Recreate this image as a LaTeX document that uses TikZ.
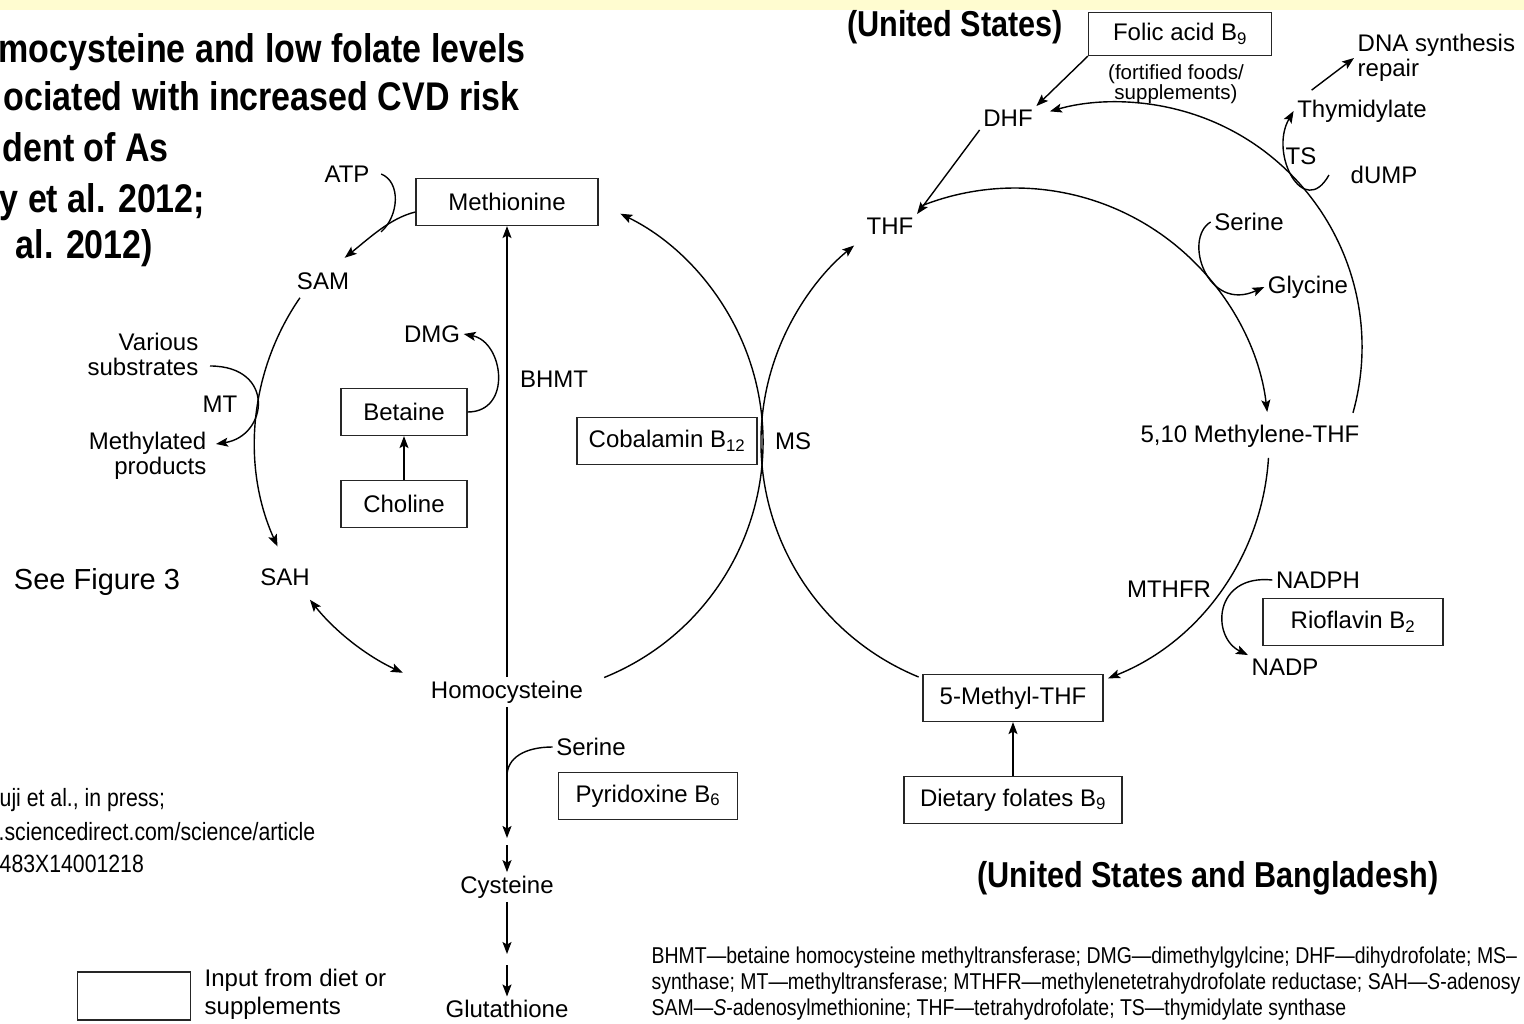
\documentclass[tikz,border=0pt]{standalone}
\usepackage{fontspec}
\setmainfont{Liberation Sans}
\newfontfamily\narrowfont[FakeStretch=0.85]{Liberation Sans}
\usetikzlibrary{arrows.meta}
\definecolor{bandyellow}{RGB}{255,252,208}

\begin{document}
\begin{tikzpicture}[x=1pt, y=-1pt, line width=1.4pt, >={Stealth[length=12pt,width=9pt,inset=2.5pt]}]
	\tikzstyle{box}=[rectangle, draw=black!85, line width=1.2pt, minimum height=47pt, font=\fontsize{24}{25}\selectfont]
	\tikzstyle{lbl}=[font=\fontsize{24}{25}\selectfont, inner sep=3pt]
	\tikzstyle{head}=[font=\narrowfont\bfseries\fontsize{40}{48}\selectfont, inner sep=0pt, anchor=base west]
	\tikzstyle{region}=[font=\narrowfont\bfseries\fontsize{36}{40}\selectfont]
	\tikzstyle{note}=[font=\narrowfont\fontsize{25}{30}\selectfont, inner sep=0pt, anchor=west]
	\tikzstyle{key}=[font=\narrowfont\fontsize{22.9}{26}\selectfont, inner sep=0pt, anchor=west]

	\useasboundingbox (0,0) rectangle (1524,1024);
	\fill[white] (0,0) rectangle (1524,1024);
	\fill[bandyellow] (0,0) rectangle (1524,10);

	% heading and notes
	\node[head] (hd1) at (-2,63) {mocysteine and low folate levels};
	\node[head] (hd2) at (3,111) {ociated with increased CVD risk};
	\node[head] (hd3) at (2,162) {dent of As};
	\node[head] (hd4) at (-1,213) {y et al. 2012;};
	\node[head] (hd5) at (15,259) {al. 2012)};
	\node[region] (us) at (955,27) {(United States)};
	\node[region] (usbd) at (1208,878) {(United States and Bangladesh)};
	\node[note] (cite1) at (-1,800) {uji et al., in press;};
	\node[note] (cite2) at (-2,832) {.sciencedirect.com/science/article};
	\node[note] (cite3) at (-1,864) {483X14001218};
	\node[key] (key1) at (651,958) {BHMT—betaine homocysteine methyltransferase; DMG—dimethylgylcine; DHF—dihydrofolate; MS–};
	\node[key] (key2) at (651,984) {synthase; MT—methyltransferase; MTHFR—methylenetetrahydrofolate reductase; SAH—\textit{S}-adenosy};
	\node[key] (key3) at (651,1010) {SAM—\textit{S}-adenosylmethionine; THF—tetrahydrofolate; TS—thymidylate synthase};
	\node[lbl, font=\fontsize{29}{30}\selectfont] (seefig) at (97,582) {See Figure 3};
	\node[box, minimum width=113pt, minimum height=48pt] (keybox) at (134,996) {};
	\node[lbl, align=left, anchor=west, font=\fontsize{24}{28}\selectfont] (keytext) at (201,994) {Input from diet or\\supplements};

	% methionine cycle
	\node[box, minimum width=182pt] (methionine) at (507,202) {Methionine};
	\node[lbl] (homocys) at (507,692) {Homocysteine};
	\node[lbl] (cysteine) [node distance=195pt, below of=homocys] {Cysteine};
	\node[lbl] (glutathione) [node distance=122pt, below of=cysteine] {Glutathione};
	\node[lbl] (atp) at (347,174) {ATP};
	\node[lbl] (sam) at (323,281) {SAM};
	\node[lbl] (sah) at (285,577) {SAH};
	\node[lbl, align=right, anchor=east] (substrates) at (202,354) {Various\\substrates};
	\node[lbl] (mt) at (220,404) {MT};
	\node[lbl, align=right, anchor=east] (methylated) at (210,456) {Methylated\\products};
	\node[lbl] (dmg) at (432,334) {DMG};
	\node[box, minimum width=126pt] (betaine) at (404,412) {Betaine};
	\node[box, minimum width=126pt] (choline) [node distance=92pt, below of=betaine] {Choline};
	\node[lbl] (bhmt) at (554,379) {BHMT};
	\node[box, minimum width=180pt] (cobalamin) at (667,441) {Cobalamin B\textsubscript{12}};
	\node[lbl] (ms) at (793,441) {MS};
	\node[lbl] (serine1) at (591,747) {Serine};
	\node[box, minimum width=179pt] (pyridoxine) at (648,796) {Pyridoxine B\textsubscript{6}};

	% folate cycle
	\node[lbl] (thf) at (890,226) {THF};
	\node[lbl] (dhf) at (1008,118) {DHF};
	\node[box, minimum width=183pt, minimum height=43pt] (folic) at (1180,34) {Folic acid B\textsubscript{9}};
	\node[lbl, align=center, font=\fontsize{20.5}{19}\selectfont] (fortified) at (1176,84) {(fortified foods/\\supplements)};
	\node[lbl] (thymidylate) at (1362,111) {Thymidylate};
	\node[lbl, align=left, anchor=west] (dna) at (1354,58) {DNA synthesis\\repair};
	\node[lbl] (ts) at (1301,156) {TS};
	\node[lbl] (dump) at (1384,175) {dUMP};
	\node[lbl] (serine2) at (1249,222) {Serine};
	\node[lbl] (glycine) at (1308,287) {Glycine};
	\node[lbl] (methylene) at (1250,436) {5,10 Methylene-THF};
	\node[lbl] (mthfr) at (1169,589) {MTHFR};
	\node[lbl] (nadph) at (1318,580) {NADPH};
	\node[box, minimum width=180pt] (rioflavin) at (1353,622) {Rioflavin B\textsubscript{2}};
	\node[lbl] (nadp) at (1285,667) {NADP};
	\node[box, minimum width=180pt] (methylthf) at (1013,698) {5-Methyl-THF};
	\node[box, minimum width=218pt] (dietary) [node distance=102pt, below of=methylthf] {Dietary folates B\textsubscript{9}};

	\coordinate (metc) at (509,442);
	\coordinate (folc) at (1015,442);
	\coordinate (thyc) at (1117,347);
	\coordinate (atpjoin) at (381,232);
	\coordinate (serjoin) at (507,776);
	\coordinate (hc1) at (507,838);
	\coordinate (hc2) at (507,845);
	\coordinate (cg1) at (507,954);
	\coordinate (cg2) at (507,965);

	% cycle arcs
	\draw[->] (metc) ++(68:254) arc[start angle=68, end angle=-64, radius=254];
	\draw[->] (metc) ++(214.6:254) arc[start angle=214.6, end angle=155.7, radius=254];
	\draw[<->] (metc) ++(141.6:254) arc[start angle=141.6, end angle=114.7, radius=254];
	\draw[->] (folc) ++(-111.4:254) arc[start angle=-111.4, end angle=-6.8, radius=254];
	\draw[->] (folc) ++(3.6:254) arc[start angle=3.6, end angle=68.5, radius=254];
	\draw[->] (folc) ++(112.3:254) arc[start angle=112.3, end angle=230.7, radius=254];
	\draw[->] (thyc) ++(15.6:245) arc[start angle=15.6, end angle=-105.9, radius=245];

	% side reactions
	\draw[->] ([yshift=-10pt]methionine.west) .. controls +(-25,6) and +(25,-20) .. ([xshift=-8pt,yshift=11pt]sam.north east);
	\draw (atp.east) ++(8,0) .. controls +(20,8) and +(18,-16) .. (atpjoin);
	\draw[->] ([shift={(8pt,-12pt)}]substrates.east) .. controls +(66,0) and +(52,-8) .. ([shift={(6pt,12pt)}]methylated.east);
	\draw[->] (betaine.east) .. controls +(45,0) and +(40,8) .. (dmg.east);
	\draw (serine1.west) .. controls +(-28,0) and +(0,-18) .. (serjoin);
	\draw[->] (serine2.west) .. controls +(-28,17) and +(-57,26) .. (glycine.west);
	\draw[->] (nadph.west) .. controls +(-59,-6) and +(-37,-18) .. (nadp.north west);
	\draw[->] ([xshift=-18pt]dump.west) .. controls +(-25,45) and +(-25,43) .. (thymidylate.west);
	\draw[->] ([xshift=18pt,yshift=6pt]thymidylate.north west) -- (dna.west);

	\foreach \from/\to in {choline/betaine,homocys/methionine,dietary/methylthf,folic.south west/dhf.north east,dhf.south west/thf.north east,homocys/hc1,hc2/cysteine,cysteine/cg1,cg2/glutathione}
	\draw [->] (\from) -- (\to);
\end{tikzpicture}
\end{document}
